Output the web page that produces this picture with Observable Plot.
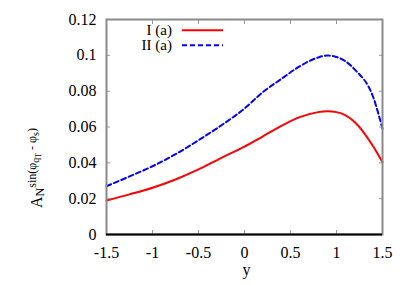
<!DOCTYPE html>
<html><head><meta charset="utf-8">
<script src="https://cdn.jsdelivr.net/npm/d3@7"></script>
<script src="https://cdn.jsdelivr.net/npm/@observablehq/plot@0.6"></script>
<style>body{margin:0;background:#fff} svg text{font-family:"Liberation Serif","Times New Roman","DejaVu Serif",serif !important}</style>
</head><body><div id="chart"></div>
<script>
const ys = [-1.5, -1.25, -1, -0.75, -0.5, -0.25, 0, 0.2, 0.4, 0.6, 0.8, 0.9, 1.0, 1.2, 1.4, 1.5];
const seriesI  = [0.0190, 0.0224, 0.0261, 0.0307, 0.0363, 0.0428, 0.0491, 0.0548, 0.0606, 0.0655, 0.0683, 0.0688, 0.0683, 0.0627, 0.0491, 0.0403];
const seriesII = [0.0270, 0.0324, 0.0381, 0.0448, 0.0526, 0.0610, 0.0703, 0.0795, 0.0868, 0.0939, 0.0988, 0.0999, 0.0991, 0.0920, 0.0765, 0.0590];
const xTicks = [-1.5, -1, -0.5, 0, 0.5, 1, 1.5];
const yTicks = [0, 0.02, 0.04, 0.06, 0.08, 0.1, 0.12];
const legendLabels = ["I (a)", "II (a)"];
const xTitle = "y";

const rowsI = ys.map((y, i) => ({y, v: seriesI[i]}));
const rowsII = ys.map((y, i) => ({y, v: seriesII[i]}));
const FONT = "Liberation Serif, Times New Roman, DejaVu Serif, serif";

const svgEl = Plot.plot({
  width: 407, height: 285,
  marginLeft: 106, marginRight: 25, marginTop: 19, marginBottom: 51,
  style: {fontFamily: FONT, fontSize: "16px", background: "#fff", color: "#000", overflow: "visible"},
  x: {domain: [-1.5, 1.5]},
  y: {domain: [0, 0.12]},
  marks: [
    Plot.line(rowsI, {x: "y", y: "v", stroke: "#ff0000", strokeWidth: 2, curve: "monotone-x"}),
    Plot.line(rowsII, {x: "y", y: "v", stroke: "#0000ff", strokeWidth: 2, strokeDasharray: "5,3", curve: "monotone-x"}),
    Plot.axisX(xTicks, {anchor: "bottom", tickSize: -4, tickFormat: () => "", label: null, stroke: "#999"}),
    Plot.axisX(xTicks, {anchor: "top", tickSize: -4, tickFormat: () => "", label: null, stroke: "#999"}),
    Plot.axisY(yTicks, {anchor: "left", tickSize: -4, tickFormat: () => "", label: null, stroke: "#999"}),
    Plot.axisY(yTicks, {anchor: "right", tickSize: -4, tickFormat: () => "", label: null, stroke: "#999"}),
    Plot.axisX(xTicks, {anchor: "bottom", tickSize: 0, tickPadding: 12, tickFormat: d => String(d), label: null}),
    Plot.axisY(yTicks, {anchor: "left", tickSize: 0, tickPadding: 10, tickFormat: d => String(d), label: null}),
    Plot.frame({stroke: "#8a8a8a", strokeWidth: 2}),
    Plot.ruleY([0], {stroke: "#000", strokeWidth: 2}),
    Plot.text([xTitle], {frameAnchor: "bottom", dx: 2, dy: 40, fontSize: 16})
  ]
});
document.getElementById("chart").appendChild(svgEl);

const svg = d3.select(svgEl);
// legend
const legColors = ["#ff0000", "#0000ff"];
const legDash = [null, "5,3"];
legendLabels.forEach((lab, i) => {
  const yy = 30.3 + i * 15;
  svg.append("text").attr("x", 172).attr("y", yy).attr("dy", "0.3em")
    .attr("text-anchor", "end").attr("font-size", 15)
    .attr("fill", "#000").text(lab);
  svg.append("line").attr("x1", 182).attr("x2", 223).attr("y1", yy).attr("y2", yy)
    .attr("stroke", legColors[i]).attr("stroke-width", 2)
    .attr("stroke-dasharray", legDash[i]);
});
// y label
const yLab = svg.append("text").attr("transform", "translate(41.5,168) rotate(-90)")
  .attr("font-size", 16).attr("fill", "#000")
  .style("white-space", "pre");
const parts = [["A", 16, 0], ["N", 12, 2], ["sin(φ", 12, -8], ["q", 10, 3], ["T", 8, 2], [" - φ", 12, -5], ["s", 10, 3], [")", 12, -3]];
parts.forEach(([t, fs, dy]) => yLab.append("tspan").attr("font-size", fs).attr("dy", dy).text(t));
</script>
</body></html>
